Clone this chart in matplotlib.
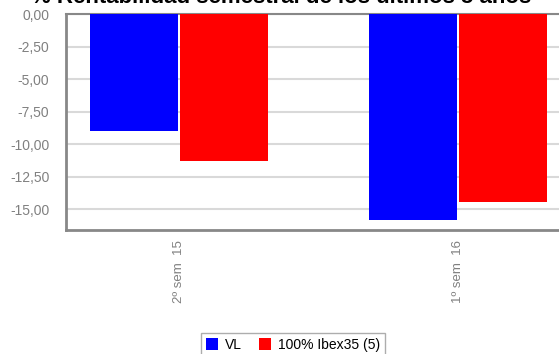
import matplotlib
matplotlib.use("Agg")
import matplotlib.pyplot as plt
from matplotlib.patches import Patch
import numpy as np

# datos
periodos = ["2º sem  15", "1º sem  16"]
vl = [-9.0, -15.85]
ibex = [-11.3, -14.45]
series = ["VL", "100% Ibex35 (5)"]
colores = ["#0000ff", "#ff0000"]
yticks = [0, -2.5, -5, -7.5, -10, -12.5, -15]

plt.rcParams['font.family'] = ['Liberation Sans', 'DejaVu Sans']

W, H = 559, 354
fig = plt.figure(figsize=(W / 100, H / 100), dpi=100)
# eje: izquierda x=66, arriba y=14, abajo y=230, derecha fuera de la figura
ax = fig.add_axes([66 / W, 1 - 230 / H, (640 - 66) / W, (230 - 14) / H])

x = np.arange(len(periodos))
ancho = 0.315
ax.bar(x - ancho / 2 - 0.0036, vl, ancho, color=colores[0], zorder=3)
ax.bar(x + ancho / 2 + 0.0036, ibex, ancho, color=colores[1], zorder=3)

ax.set_xlim(-0.405, -0.405 + (640 - 66) / 279)
ax.set_ylim(-16.6, 0)
ax.set_yticks(yticks)
ax.set_yticklabels([f"{v:.2f}".replace(".", ",") for v in yticks])
ax.set_xticks(x)
ax.set_xticklabels(periodos, rotation=90, va='top')

ax.grid(axis='y', color='#d9d9d9', linewidth=1.5, zorder=0)
ax.tick_params(axis='y', length=0, pad=12, labelsize=10, labelcolor='#808080')
ax.tick_params(axis='x', length=0, pad=7, labelsize=9.5, labelcolor='#808080')
for lado in ['left', 'bottom', 'top']:
    ax.spines[lado].set_color('#888888')
    ax.spines[lado].set_linewidth(2)
ax.spines['top'].set_linewidth(1.5)
ax.spines['right'].set_visible(False)

# el titulo queda cortado arriba, igual que en la imagen original
fig.text(281 / W, 1 - 3 / H, "% Rentabilidad semestral de los últimos 5 años",
         ha='center', va='baseline', fontsize=16, fontweight='bold')

handles = [Patch(facecolor=c, edgecolor='none') for c in colores]
fig.legend(handles, series, loc='upper left', bbox_to_anchor=(201 / W, 1 - 333 / H),
           ncol=2, frameon=True, fancybox=False, edgecolor='#999999', fontsize=10,
           handlelength=0.9, handleheight=0.9, handletextpad=0.5, columnspacing=1.2,
           borderpad=0.35, borderaxespad=0)

fig.savefig("out.png", dpi=100)
